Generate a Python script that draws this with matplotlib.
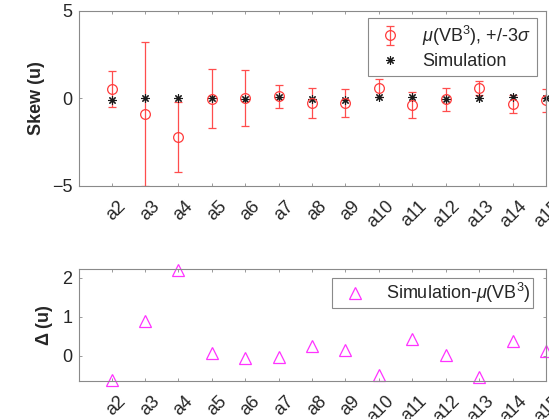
import matplotlib
matplotlib.use("Agg")
import matplotlib.pyplot as plt
import matplotlib.transforms as mtransforms
import numpy as np

categories = ["a2", "a3", "a4", "a5", "a6", "a7", "a8", "a9", "a10", "a11", "a12", "a13", "a14", "a15"]
mu_vb3 = [0.53, -0.90, -2.19, -0.02, 0.02, 0.11, -0.27, -0.25, 0.57, -0.36, -0.06, 0.59, -0.32, -0.11]
three_sigma = [1.03, 4.12, 2.00, 1.69, 1.62, 0.64, 0.88, 0.79, 0.52, 0.75, 0.65, 0.42, 0.51, 0.66]
simulation = [-0.09, 0.00, 0.03, 0.04, -0.04, 0.07, -0.01, -0.09, 0.08, 0.06, -0.03, 0.04, 0.06, 0.02]
delta = [-0.63, 0.90, 2.21, 0.06, -0.06, -0.04, 0.26, 0.16, -0.49, 0.42, 0.03, -0.55, 0.38, 0.13]

plt.rcParams['font.family'] = ['Liberation Sans', 'DejaVu Sans']
plt.rcParams['mathtext.fontset'] = 'custom'
plt.rcParams['mathtext.rm'] = 'Liberation Sans'
plt.rcParams['mathtext.it'] = 'Liberation Sans:italic'
plt.rcParams['mathtext.bf'] = 'Liberation Sans:bold'

W, H = 549, 419
fig = plt.figure(figsize=(W / 100, H / 100), dpi=100)

def fr(l, t, r, b):
    return [l / W, 1 - b / H, (r - l) / W, (b - t) / H]

ax1 = fig.add_axes(fr(79.3, 11, 546, 185.7))
ax2 = fig.add_axes(fr(79.3, 269.3, 546, 380.7))

x = np.arange(2, 2 + len(categories))
spine_c = '#8a8a8a'
text_c = '#262626'

eb = ax1.errorbar(x, mu_vb3, yerr=three_sigma, fmt='o', color='#ff3b3b', ecolor='#ff4d4d',
                  mfc='none', mec='#ff3b3b', ms=7, mew=0.9, elinewidth=0.9, capsize=3, capthick=0.9,
                  label=r'$\mu$(VB$^3$), +/-3$\sigma$')
sim, = ax1.plot(x, simulation, linestyle='none', marker=(8, 2, 0), color='#1a1a1a', ms=6, mew=0.8,
                label='Simulation', clip_on=False)
dl, = ax2.plot(x, delta, linestyle='none', marker='^', mfc='none', mec='#ff33ff', ms=8, mew=0.9,
               label=r'Simulation-$\mu$(VB$^3$)', clip_on=False)

xl = (1.036, 14.925)
ax1.set_xlim(*xl)
ax1.set_ylim(-5, 5)
ax1.set_yticks([-5, 0, 5])
ax2.set_xlim(*xl)
ax2.set_ylim(-0.64, 2.22)
ax2.set_yticks([0, 1, 2])

offset = mtransforms.ScaledTranslation(12 / 100, -1 / 100, fig.dpi_scale_trans)
for ax in (ax1, ax2):
    ax.set_xticks(x)
    ax.set_xticklabels(categories, rotation=45, ha='right', va='center', rotation_mode='anchor')
    ax.tick_params(direction='in', length=2.5, width=0.6, color=spine_c, labelsize=13,
                   labelcolor=text_c, top=True, right=True, pad=5)
    ax.tick_params(axis='x', pad=12)
    for lab in ax.get_xticklabels():
        lab.set_transform(lab.get_transform() + offset)
    for s in ax.spines.values():
        s.set_color(spine_c)
        s.set_linewidth(0.8)

ax1.set_ylabel('Skew (u)', fontsize=13, fontweight='bold', color=text_c, labelpad=5)
ax2.set_ylabel(r'$\mathbf{\Delta}$ (u)', fontsize=13, fontweight='bold', color=text_c, labelpad=5)

leg1 = ax1.legend([eb, sim], [r'$\mu$(VB$^3$), +/-3$\sigma$', 'Simulation'],
                  loc='upper right', bbox_to_anchor=(536.7 / W, 1 - 18.3 / H), bbox_transform=fig.transFigure,
                  fontsize=13, frameon=True, fancybox=False, edgecolor='#8a8a8a', framealpha=1,
                  handlelength=1.8, handletextpad=0.9, labelspacing=0.3, borderpad=0.3, borderaxespad=0)
leg1.get_frame().set_linewidth(0.8)
leg2 = ax2.legend([dl], [r'Simulation-$\mu$(VB$^3$)'],
                  loc='upper right', bbox_to_anchor=(532.7 / W, 1 - 278.3 / H), bbox_transform=fig.transFigure,
                  fontsize=13, frameon=True, fancybox=False, edgecolor='#8a8a8a', framealpha=1,
                  handlelength=2.2, handletextpad=0.6, borderpad=0.15, borderaxespad=0)
leg2.get_frame().set_linewidth(0.8)
for leg in (leg1, leg2):
    for t in leg.get_texts():
        t.set_color(text_c)

fig.savefig('out.png', dpi=100)
